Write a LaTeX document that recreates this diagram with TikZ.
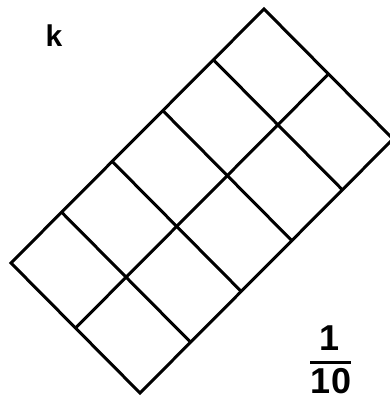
\documentclass[tikz,border=0pt]{standalone}
\usepackage{fontspec}
\setmainfont{Liberation Sans}
\usetikzlibrary{calc}
\begin{document}
\begin{tikzpicture}[x=1pt,y=-1pt,
  gridline/.style={line width=3pt,line join=miter,line cap=butt},
  lbl/.style={inner sep=0pt,font=\bfseries}]
\useasboundingbox (0,0) rectangle (390,401);
% corners
\coordinate (L) at (11,263);
\coordinate (T) at (264,9);
\coordinate (B) at (140,393);
\coordinate (R) at ($(T)+(B)-(L)$);
% division points
\foreach \i in {0,...,5}{
  \coordinate (a\i) at ($(L)!\i/5!(T)$);
  \coordinate (m\i) at ($(L)!0.5!(B)+(\i*50.6,-\i*50.8)$);
  \coordinate (b\i) at ($(B)!\i/5!(R)$);
}
\draw[gridline] (L) -- (T) -- (R) -- (B) -- cycle;
\draw[gridline] (m0) -- (m5);
\foreach \i in {1,...,4}{
  \draw[gridline] (a\i) -- (b\i);
}
\node[lbl,font=\bfseries\fontsize{30}{30}\selectfont] (k) at (54,36) {k};
\node[lbl,font=\bfseries\fontsize{36}{36}\selectfont] (num) at (330,338) {1};
\node[lbl,font=\bfseries\fontsize{36}{36}\selectfont] (den) at (331,381) {10};
\coordinate (barl) at (310,362);
\coordinate (barr) at (351,362);
\draw[line width=3pt] (barl) -- (barr);
\end{tikzpicture}
\end{document}
